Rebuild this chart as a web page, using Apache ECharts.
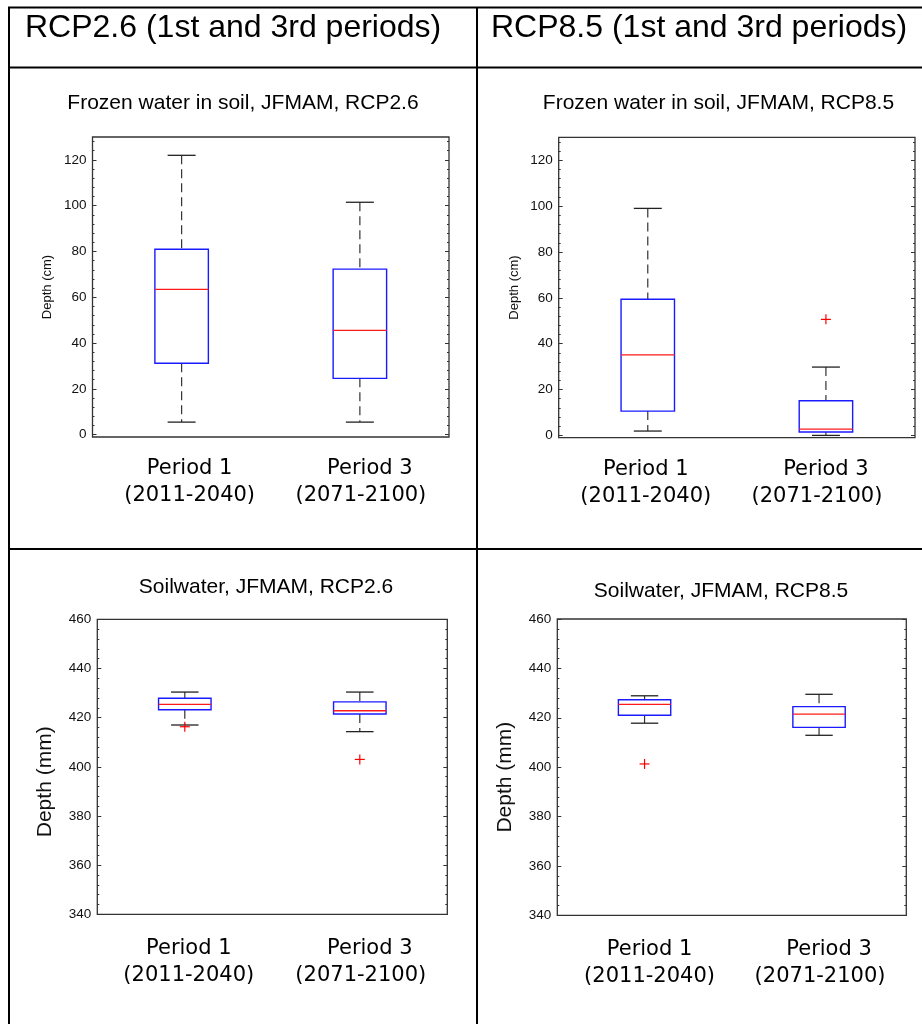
<!DOCTYPE html>
<html><head><meta charset="utf-8">
<script src="https://cdn.jsdelivr.net/npm/echarts@6/dist/echarts.min.js"></script>
<style>html,body{margin:0;padding:0;background:#fff}#c{width:922px;height:1024px}</style>
</head><body><div id="c"></div>
<script>
// ---------- data ----------
const categories = ['Period 1\n(2011-2040)', 'Period 3\n(2071-2100)'];
// each box: [lower whisker, Q1, median, Q3, upper whisker]
const frozenRCP26 = [[5.5, 31.2, 63.5, 81.0, 122.0], [5.5, 24.6, 45.6, 72.3, 101.5]];
const frozenRCP85 = [[1.9, 10.6, 35.1, 59.4, 99.0], [0.0, 1.5, 2.7, 15.1, 29.8]];
const soilRCP26 = [[417.0, 423.2, 425.4, 427.9, 430.4], [414.3, 421.5, 422.8, 426.4, 430.4]];
const soilRCP85 = [[417.8, 421.0, 425.4, 427.3, 428.9], [412.9, 416.1, 421.5, 424.5, 429.5]];
// outliers: [category index, value]
const frozenRCP26Out = [];
const frozenRCP85Out = [[1, 50.6]];
const soilRCP26Out = [[0, 416.3], [1, 403.0]];
const soilRCP85Out = [[0, 401.3]];
// tick labels
const frozenTicks = [0, 20, 40, 60, 80, 100, 120];
const soilTicks = [340, 360, 380, 400, 420, 440, 460];
const headers = ['RCP2.6 (1st and 3rd periods)', 'RCP8.5 (1st and 3rd periods)'];
const titles = ['Frozen water in soil, JFMAM, RCP2.6', 'Frozen water in soil, JFMAM, RCP8.5',
                'Soilwater, JFMAM, RCP2.6', 'Soilwater, JFMAM, RCP8.5'];
const yNames = ['Depth (cm)', 'Depth (cm)', 'Depth (mm)', 'Depth (mm)'];

// ---------- layout ----------
const panels = [
  {grid:{left:92.5, top:137, width:356.5, height:300}, min:-1, max:130, ticks:frozenTicks, minorStep:4,
   box:frozenRCP26, out:frozenRCP26Out, title:[243, 103], nameSize:13, nameGap:39, namePad:0, labMargin:18, off:[8,1]},
  {grid:{left:558.7, top:137.3, width:356.3, height:300.4}, min:-1, max:130, ticks:frozenTicks, minorStep:4,
   box:frozenRCP85, out:frozenRCP85Out, title:[718.5, 103], nameSize:13, nameGap:38, namePad:0, labMargin:18, off:[-2,-9]},
  {grid:{left:97.3, top:619.3, width:350, height:295}, min:340, max:460, ticks:soilTicks, minorStep:4,
   box:soilRCP26, out:soilRCP26Out, title:[266, 587], nameSize:21, nameGap:42, namePad:30, labMargin:21, off:[4,1]},
  {grid:{left:557.3, top:619, width:349, height:296.3}, min:340, max:460, ticks:soilTicks, minorStep:4,
   box:soilRCP85, out:soilRCP85Out, title:[721, 591], nameSize:21, nameGap:42, namePad:20, labMargin:21, off:[5,1]}
];

function minorList(p) {
  const a = [];
  for (let v = p.ticks[0]; v <= p.max; v += p.minorStep) a.push(v);
  return a;
}
function pad(s) { return s >= 0 ? [0, 0, 0, 2 * s] : [0, -2 * s, 0, 0]; }

const grids = [], xAxes = [], yAxes = [], series = [];
const tickColor = '#333';

panels.forEach((p, gi) => {
  grids.push(Object.assign({show:true, borderColor:'#333', borderWidth:1.3, backgroundColor:'#fff'}, p.grid));
  const rich = {
    a0:{fontFamily:'DejaVu Sans', fontSize:21, lineHeight:27, color:'#000', padding:pad(p.off[0])},
    b0:{fontFamily:'DejaVu Sans', fontSize:21, lineHeight:27, color:'#000', padding:pad(p.off[0])},
    a1:{fontFamily:'DejaVu Sans', fontSize:21, lineHeight:27, color:'#000', padding:pad(p.off[1] + 9)},
    b1:{fontFamily:'DejaVu Sans', fontSize:21, lineHeight:27, color:'#000', padding:pad(p.off[1])}
  };
  xAxes.push({
    gridIndex: gi, type:'category', data: categories, boundaryGap:true,
    axisLine:{show:false}, axisTick:{show:false}, splitLine:{show:false},
    axisLabel:{margin:p.labMargin, interval:0,
      formatter:(v, i) => { const parts = v.split('\n'); return '{a' + i + '|' + parts[0] + '}\n{b' + i + '|' + parts[1] + '}'; },
      rich}
  });
  const minors = minorList(p);
  const base = {gridIndex:gi, type:'value', min:p.min, max:p.max, splitLine:{show:false}, axisLine:{show:false}};
  yAxes.push(Object.assign({}, base, {
    position:'left', name: yNames[gi], nameLocation:'middle', nameGap:p.nameGap,
    nameTextStyle:{fontFamily:'Liberation Sans', fontSize:p.nameSize, color:'#111', padding:[0, p.namePad, 0, 0]},
    axisTick:{show:true, inside:true, length:4, customValues:p.ticks, lineStyle:{color:tickColor}},
    axisLabel:{show:true, customValues:p.ticks, margin:6, fontFamily:'Liberation Sans', fontSize:13.5, color:'#111'}
  }));
  yAxes.push(Object.assign({}, base, {position:'left',
    axisTick:{show:true, inside:true, length:2, customValues:minors, lineStyle:{color:tickColor}}, axisLabel:{show:false}}));
  yAxes.push(Object.assign({}, base, {position:'right',
    axisTick:{show:true, inside:true, length:4, customValues:p.ticks, lineStyle:{color:tickColor}}, axisLabel:{show:false}}));
  yAxes.push(Object.assign({}, base, {position:'right',
    axisTick:{show:true, inside:true, length:2, customValues:minors, lineStyle:{color:tickColor}}, axisLabel:{show:false}}));

  series.push({
    type:'custom', xAxisIndex:gi, yAxisIndex:gi * 4, silent:true,
    data: p.box.map((d, i) => [i].concat(d)),
    encode:{x:0, y:[1, 2, 3, 4, 5]},
    renderItem:(params, api) => {
      const x = api.value(0);
      const band = api.size([1, 0])[0];
      const bw = band * 0.30, cw = band * 0.157;
      const pLo = api.coord([x, api.value(1)]), pQ1 = api.coord([x, api.value(2)]),
            pMd = api.coord([x, api.value(3)]), pQ3 = api.coord([x, api.value(4)]),
            pHi = api.coord([x, api.value(5)]);
      const cx = pLo[0];
      const wStyle = {stroke:'#333', lineWidth:1.2, lineDash:[9, 5]};
      const cStyle = {stroke:'#222', lineWidth:1.3};
      return {type:'group', children:[
        {type:'line', shape:{x1:cx, y1:pHi[1], x2:cx, y2:pQ3[1]}, style:wStyle},
        {type:'line', shape:{x1:cx, y1:pQ1[1], x2:cx, y2:pLo[1]}, style:wStyle},
        {type:'line', shape:{x1:cx - cw / 2, y1:pHi[1], x2:cx + cw / 2, y2:pHi[1]}, style:cStyle},
        {type:'line', shape:{x1:cx - cw / 2, y1:pLo[1], x2:cx + cw / 2, y2:pLo[1]}, style:cStyle},
        {type:'rect', shape:{x:cx - bw / 2, y:pQ3[1], width:bw, height:pQ1[1] - pQ3[1]},
          style:{fill:'none', stroke:'#1a1aff', lineWidth:1.4}},
        {type:'line', shape:{x1:cx - bw / 2, y1:pMd[1], x2:cx + bw / 2, y2:pMd[1]}, style:{stroke:'#ff1a1a', lineWidth:1.3}}
      ]};
    }
  });
  series.push({
    type:'custom', xAxisIndex:gi, yAxisIndex:gi * 4, silent:true,
    data: p.out,
    encode:{x:0, y:1},
    renderItem:(params, api) => {
      const c = api.coord([api.value(0), api.value(1)]);
      const s = 5, st = {stroke:'#ff0000', lineWidth:1.2};
      return {type:'group', children:[
        {type:'line', shape:{x1:c[0] - s, y1:c[1], x2:c[0] + s, y2:c[1]}, style:st},
        {type:'line', shape:{x1:c[0], y1:c[1] - s, x2:c[0], y2:c[1] + s}, style:st}
      ]};
    }
  });
});

function txt(x, y, text, size, align) {
  return {type:'text', x, y, z:10, silent:true,
    style:{text, fontFamily:'Liberation Sans', fontSize:size, fill:'#000',
      align, textAlign:align, verticalAlign:'middle', textVerticalAlign:'middle'}};
}
function ln(x1, y1, x2, y2) {
  return {type:'line', z:10, silent:true, shape:{x1, y1, x2, y2}, style:{stroke:'#000', lineWidth:2}};
}
const graphic = [
  ln(8, 7.5, 922, 7.5), ln(9, 7, 9, 1024), ln(8, 67.5, 922, 67.5), ln(477, 7, 477, 1024), ln(8, 549, 922, 549),
  txt(25, 28, headers[0], 32, 'left'), txt(491, 28, headers[1], 32, 'left')
];
panels.forEach((p, i) => graphic.push(txt(p.title[0], p.title[1], titles[i], 21, 'center')));

const chart = echarts.init(document.getElementById('c'), null, {renderer:'canvas'});
chart.setOption({
  animation:false, backgroundColor:'#fff',
  grid:grids, xAxis:xAxes, yAxis:yAxes, series, graphic
});
</script></body></html>
